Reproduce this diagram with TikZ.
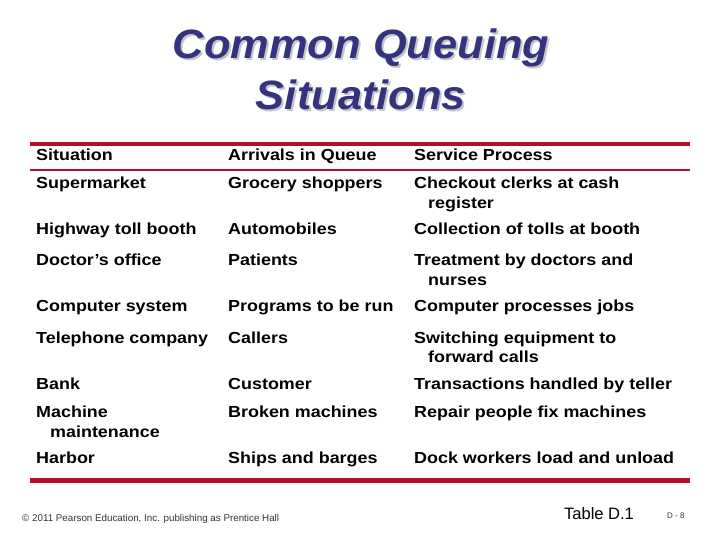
\documentclass[tikz,border=0pt]{standalone}
\usepackage{fontspec}
\setmainfont{Liberation Sans}
\newfontfamily\cellf[FakeStretch=1.12]{Liberation Sans}
\newfontfamily\ttlf[FakeStretch=1.06]{Liberation Sans}
\definecolor{ttl}{HTML}{333380}
\definecolor{rl}{HTML}{B01028}
\tikzset{cell/.style={anchor=base west,inner sep=0pt,font=\cellf\fontsize{16}{20}\selectfont\bfseries,align=left},
ttlst/.style={font=\ttlf\fontsize{41}{42}\selectfont\bfseries\itshape,inner sep=0pt}}
\begin{document}
\begin{tikzpicture}[x=1pt,y=-1pt]
\useasboundingbox (0,0) rectangle (720,540);
\foreach \t/\y/\n in {Common Queuing/48/a,Situations/95/b}{
 \node[ttlst,text=gray!45] (s\n) at (363,\y+2) {\t};
 \node[ttlst,text=ttl] (t\n) at (361,\y) {\t};}
\fill[rl] (30,142) rectangle (690,146);
\fill[rl] (30,169) rectangle (690,171);
\fill[rl] (30,478) rectangle (690,483);
\node[cell] (h1) at (36,161) {Situation};
\node[cell] (h2) at (228,161) {Arrivals in Queue};
\node[cell] (h3) at (414,161) {Service Process};
\foreach \a/\b/\c/\y in {Supermarket/Grocery shoppers/Checkout clerks at cash/189,
Highway toll booth/Automobiles/Collection of tolls at booth/235,
Doctor’s office/Patients/Treatment by doctors and/265,
Computer system/Programs to be run/Computer processes jobs/311,
Telephone company/Callers/Switching equipment to/343,
Bank/Customer/Transactions handled by teller/389,
Machine/Broken machines/Repair people fix machines/417,
Harbor/Ships and barges/Dock workers load and unload/463}{
 \node[cell] at (36,\y) {\a};
 \node[cell] at (228,\y) {\b};
 \node[cell] at (414,\y) {\c};}
\node[cell] (r1) at (428,209) {register};
\node[cell] (r2) at (428,285) {nurses};
\node[cell] (r3) at (428,362) {forward calls};
\node[cell] (r4) at (50,437) {maintenance};
\node[anchor=west,inner sep=0pt,font=\fontsize{9.8}{10}\selectfont,text=black!80] (c) at (22,519) {© 2011 Pearson Education, Inc. publishing as Prentice Hall};
\node[anchor=west,inner sep=0pt,font=\fontsize{16.5}{17}\selectfont] (td) at (564,514) {Table D.1};
\node[anchor=west,inner sep=0pt,font=\fontsize{8}{9}\selectfont,text=black!80] (d8) at (667,516) {D - 8};
\end{tikzpicture}
\end{document}
